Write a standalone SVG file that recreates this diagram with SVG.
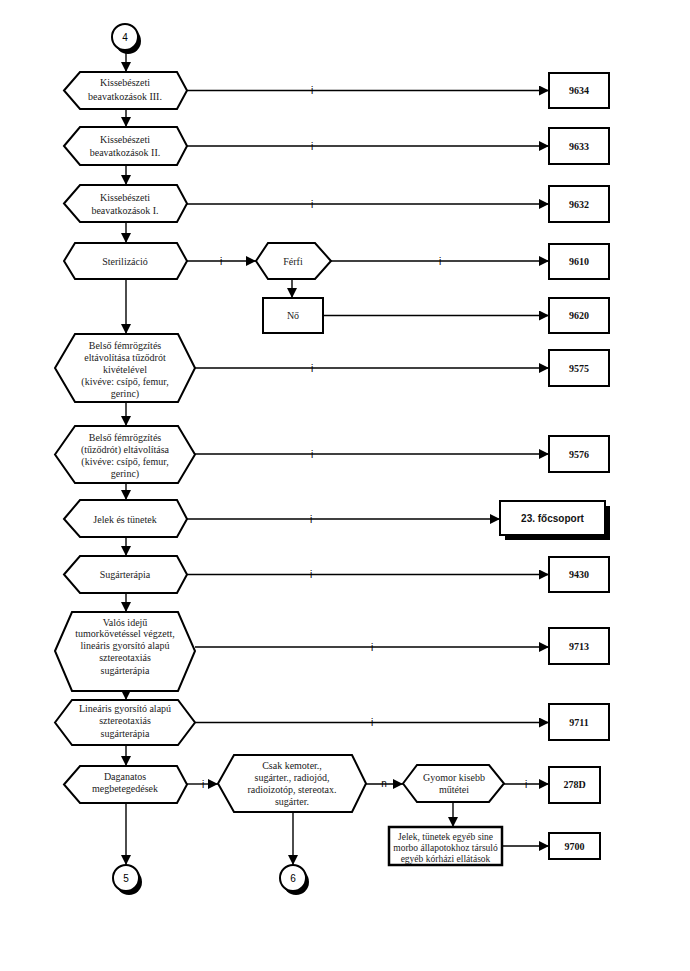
<svg xmlns="http://www.w3.org/2000/svg" width="690" height="971" viewBox="0 0 690 971">
<style>
.hex{fill:#fff;stroke:#000;stroke-width:2;stroke-linejoin:miter}
.box{fill:#fff;stroke:#000;stroke-width:2}
.t{font-family:"Liberation Serif","Times New Roman",serif;font-size:10px;fill:#222;text-anchor:middle}
.t2{font-family:"Liberation Serif","Times New Roman",serif;font-size:9.5px;fill:#222;text-anchor:middle}
.b{font-family:"Liberation Serif","Times New Roman",serif;font-size:10px;font-weight:bold;fill:#111;text-anchor:middle}
.s{font-family:"Liberation Sans",Arial,sans-serif;font-size:10px;font-weight:bold;fill:#111;text-anchor:middle}
.lbl{font-family:"Liberation Sans",Arial,sans-serif;font-size:10px;fill:#000;text-anchor:middle}
.c{fill:none;stroke:#000;stroke-width:1.4}
.a{marker-end:url(#ah)}
.circ{fill:#fff;stroke:#000;stroke-width:2}
.cn{font-family:"Liberation Sans",Arial,sans-serif;font-size:10px;fill:#000;text-anchor:middle}
</style>
<defs>
<marker id="ah" markerUnits="userSpaceOnUse" markerWidth="11" markerHeight="10" refX="10" refY="5" orient="auto">
<path d="M0,0 L10,5 L0,10 z" fill="#000"/>
</marker>
</defs>
<rect width="690" height="971" fill="#fff"/>

<g id="connectors">
<line class="c a" x1="126" y1="50" x2="126" y2="72"/>
<line class="c a" x1="126" y1="109" x2="126" y2="127"/>
<line class="c a" x1="126" y1="165" x2="126" y2="185"/>
<line class="c a" x1="126" y1="222" x2="126" y2="243"/>
<line class="c a" x1="126" y1="279" x2="126" y2="334"/>
<line class="c a" x1="126" y1="402" x2="126" y2="426"/>
<line class="c a" x1="126" y1="483" x2="126" y2="500"/>
<line class="c a" x1="126" y1="537" x2="126" y2="556"/>
<line class="c a" x1="126" y1="593" x2="126" y2="612"/>
<line class="c a" x1="126" y1="691" x2="126" y2="700"/>
<line class="c a" x1="126" y1="745" x2="126" y2="766"/>
<line class="c a" x1="126" y1="803" x2="126" y2="865"/>
<line class="c a" x1="293" y1="812" x2="293" y2="865"/>
<line class="c a" x1="292" y1="279" x2="292" y2="298"/>
<line class="c a" x1="453" y1="802" x2="453" y2="827"/>
<line class="c a" x1="187" y1="90.5" x2="549" y2="90.5"/>
<line class="c a" x1="187" y1="146" x2="549" y2="146"/>
<line class="c a" x1="187" y1="204" x2="549" y2="204"/>
<line class="c a" x1="187" y1="261" x2="256" y2="261"/>
<line class="c a" x1="331" y1="261" x2="549" y2="261"/>
<line class="c a" x1="323" y1="315.5" x2="549" y2="315.5"/>
<line class="c a" x1="195" y1="368" x2="549" y2="368"/>
<line class="c a" x1="195" y1="454" x2="549" y2="454"/>
<line class="c a" x1="187" y1="519" x2="500" y2="519"/>
<line class="c a" x1="187" y1="574.5" x2="549" y2="574.5"/>
<line class="c a" x1="195" y1="647" x2="549" y2="647"/>
<line class="c a" x1="195" y1="722.5" x2="549" y2="722.5"/>
<line class="c a" x1="187" y1="784" x2="218" y2="784"/>
<line class="c a" x1="366" y1="784" x2="403" y2="784"/>
<line class="c a" x1="504" y1="784" x2="549" y2="784"/>
<line class="c a" x1="502" y1="846" x2="549" y2="846"/>
<text class="lbl" x="312" y="94">i</text>
<text class="lbl" x="312" y="149.5">i</text>
<text class="lbl" x="312" y="207.5">i</text>
<text class="lbl" x="221" y="264.5">i</text>
<text class="lbl" x="440" y="264.5">i</text>
<text class="lbl" x="312" y="371.5">i</text>
<text class="lbl" x="312" y="457.5">i</text>
<text class="lbl" x="311" y="522.5">i</text>
<text class="lbl" x="311" y="578">i</text>
<text class="lbl" x="372" y="650.5">i</text>
<text class="lbl" x="372" y="726">i</text>
<text class="lbl" x="203" y="787.5">i</text>
<text class="lbl" x="384" y="787">n</text>
<text class="lbl" x="526" y="787.5">i</text>
</g>

<g id="c4">
<circle cx="128" cy="41" r="13" fill="#000"/>
<circle class="circ" cx="125" cy="37" r="13"/>
<text class="cn" x="125" y="40.5">4</text>
</g>

<g id="h1">
<polygon class="hex" points="64,90.5 80,72 177,72 187,90.5 177,109 80,109"/>
<text class="t" x="125" y="86">Kissebészeti</text>
<text class="t" x="125" y="100">beavatkozások III.</text>
</g>
<g id="b9634"><rect class="box" x="549" y="73" width="60" height="35"/><text class="b" x="579" y="94">9634</text></g>

<g id="h2">
<polygon class="hex" points="64,146 80,127 177,127 187,146 177,165 80,165"/>
<text class="t" x="125" y="143">Kissebészeti</text>
<text class="t" x="125" y="156">beavatkozások II.</text>
</g>
<g id="b9633"><rect class="box" x="549" y="128" width="60" height="36"/><text class="b" x="579" y="149.5">9633</text></g>

<g id="h3">
<polygon class="hex" points="64,203.5 80,185 177,185 187,203.5 177,222 80,222"/>
<text class="t" x="125" y="200.5">Kissebészeti</text>
<text class="t" x="125" y="213.5">beavatkozások I.</text>
</g>
<g id="b9632"><rect class="box" x="549" y="186" width="60" height="36"/><text class="b" x="579" y="207.5">9632</text></g>

<g id="h4">
<polygon class="hex" points="64,261 75,243 177,243 187,261 177,279 75,279"/>
<text class="t" x="125" y="264.5">Sterilizáció</text>
</g>
<g id="hferfi">
<polygon class="hex" points="256,261 268,243 315,243 331,261 315,279 268,279"/>
<text class="t" x="293" y="264.5">Férfi</text>
</g>
<g id="b9610"><rect class="box" x="549" y="244" width="60" height="35"/><text class="b" x="579" y="265">9610</text></g>
<g id="bno"><rect class="box" x="263" y="298" width="60" height="35"/><text class="t" x="293" y="319">Nő</text></g>
<g id="b9620"><rect class="box" x="549" y="298" width="60" height="35"/><text class="b" x="579" y="319">9620</text></g>

<g id="h5">
<polygon class="hex" points="55,368 75,334 178,334 195,368 178,402 75,402"/>
<text class="t" x="125" y="348.5">Belső fémrögzítés</text>
<text class="t" x="125" y="360.5">eltávolítása tűződrót</text>
<text class="t" x="125" y="372.5">kivételével</text>
<text class="t" x="125" y="384.5">(kivéve: csípő, femur,</text>
<text class="t" x="125" y="396.5">gerinc)</text>
</g>
<g id="b9575"><rect class="box" x="549" y="350" width="60" height="36"/><text class="b" x="579" y="371.5">9575</text></g>

<g id="h6">
<polygon class="hex" points="55,454.5 75,426 178,426 195,454.5 178,483 75,483"/>
<text class="t" x="125" y="440.5">Belső fémrögzítés</text>
<text class="t" x="125" y="452.5">(tűződrót) eltávolítása</text>
<text class="t" x="125" y="464.5">(kivéve: csípő, femur,</text>
<text class="t" x="125" y="476.5">gerinc)</text>
</g>
<g id="b9576"><rect class="box" x="549" y="436" width="60" height="36"/><text class="b" x="579" y="457.5">9576</text></g>

<g id="h7">
<polygon class="hex" points="64,519 80,500 177,500 187,519 177,537 80,537"/>
<text class="t" x="125" y="522.5">Jelek és tünetek</text>
</g>
<g id="b23">
<rect x="505" y="506" width="105" height="34" fill="#000"/>
<rect class="box" x="500" y="501" width="105" height="34"/>
<text class="s" x="552.5" y="521.5">23. főcsoport</text>
</g>

<g id="h8">
<polygon class="hex" points="64,574.5 80,556 177,556 187,574.5 177,593 80,593"/>
<text class="t" x="125" y="578">Sugárterápia</text>
</g>
<g id="b9430"><rect class="box" x="549" y="557" width="60" height="35"/><text class="b" x="579" y="578">9430</text></g>

<g id="h9">
<polygon class="hex" points="55,651 72,612 178,612 195,651 178,691 72,691"/>
<text class="t" x="125" y="625.5">Valós idejű</text>
<text class="t" x="125" y="637">tumorkövetéssel végzett,</text>
<text class="t" x="125" y="648.5">lineáris gyorsító alapú</text>
<text class="t" x="125" y="661">sztereotaxiás</text>
<text class="t" x="125" y="673.5">sugárterápia</text>
</g>
<g id="b9713"><rect class="box" x="549" y="628" width="60" height="36"/><text class="b" x="579" y="649.5">9713</text></g>

<g id="h10">
<polygon class="hex" points="55,722.5 72,700 178,700 195,722.5 178,745 72,745"/>
<text class="t" x="125" y="711.5">Lineáris gyorsító alapú</text>
<text class="t" x="125" y="724">sztereotaxiás</text>
<text class="t" x="125" y="736.5">sugárterápia</text>
</g>
<g id="b9711"><rect class="box" x="549" y="704" width="60" height="36"/><text class="b" x="579" y="725.5">9711</text></g>

<g id="h11">
<polygon class="hex" points="64,784.5 80,766 177,766 187,784.5 177,803 80,803"/>
<text class="t" x="125" y="779.5">Daganatos</text>
<text class="t" x="125" y="791.5">megbetegedések</text>
</g>

<g id="hcsak">
<polygon class="hex" points="218,783.5 234,755 352,755 366,783.5 352,812 234,812"/>
<text class="t" x="292" y="768.5">Csak kemoter.,</text>
<text class="t" x="292" y="780.5">sugárter., radiojód,</text>
<text class="t" x="292" y="792.5">radioizotóp, stereotax.</text>
<text class="t" x="292" y="805">sugárter.</text>
</g>

<g id="hgyomor">
<polygon class="hex" points="403,783.5 417,765 489,765 504,783.5 489,802 417,802"/>
<text class="t" x="454" y="780.5">Gyomor kisebb</text>
<text class="t" x="454" y="792.5">műtétei</text>
</g>
<g id="b278D"><rect class="box" x="549" y="767" width="51" height="36"/><text class="b" x="574.5" y="788">278D</text></g>

<g id="bjelek">
<rect class="box" x="389" y="827" width="113" height="38" style="stroke-width:2.5"/>
<text class="t2" x="445.5" y="840">Jelek, tünetek egyéb sine</text>
<text class="t2" x="445.5" y="851">morbo állapotokhoz társuló</text>
<text class="t2" x="445.5" y="861.5">egyéb kórházi ellátások</text>
</g>
<g id="b9700"><rect class="box" x="549" y="833" width="51" height="26"/><text class="b" x="574.5" y="849.5">9700</text></g>

<g id="c5">
<circle cx="129" cy="882" r="13" fill="#000"/>
<circle class="circ" cx="126" cy="878" r="13"/>
<text class="cn" x="126" y="881.5">5</text>
</g>
<g id="c6">
<circle cx="296" cy="882" r="13" fill="#000"/>
<circle class="circ" cx="293" cy="878" r="13"/>
<text class="cn" x="293" y="881.5">6</text>
</g>
</svg>
